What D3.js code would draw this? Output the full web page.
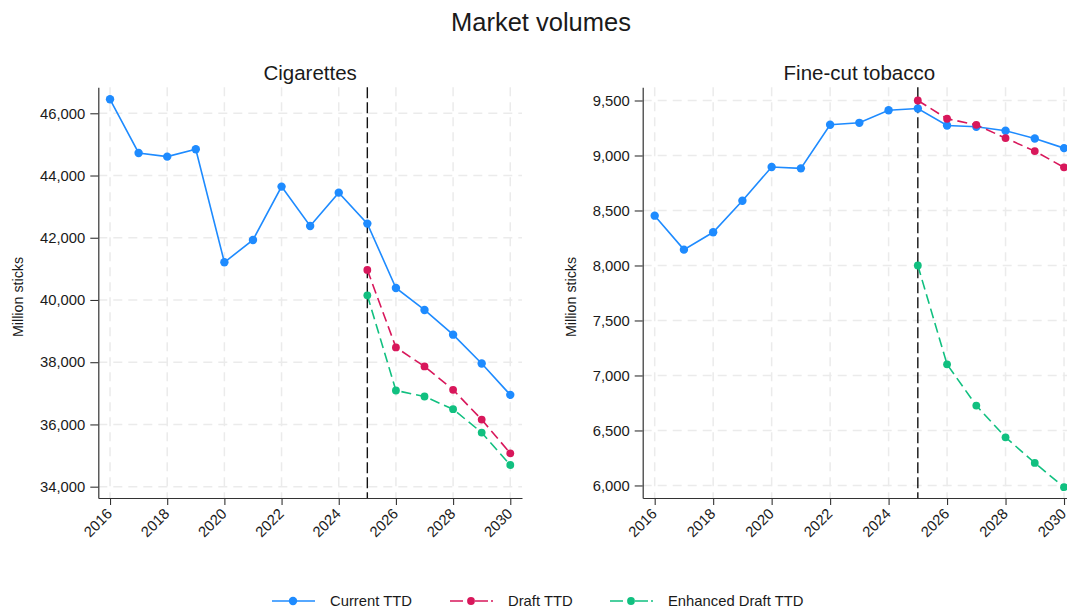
<!DOCTYPE html>
<html>
<head>
<meta charset="utf-8">
<script src="https://cdn.jsdelivr.net/npm/d3@7"></script>
<style>
  body { margin: 0; background: #fff; }
  text { font-family: "Liberation Sans", Arial, sans-serif; fill: #1a1a1a; }
</style>
</head>
<body>
<svg id="chart" width="1067" height="610"></svg>
<script>
// ---- data -------------------------------------------------------------
const years = [2016, 2017, 2018, 2019, 2020, 2021, 2022, 2023, 2024, 2025, 2026, 2027, 2028, 2029, 2030];
const projYears = [2025, 2026, 2027, 2028, 2029, 2030];
const yearTicks = [2016, 2018, 2020, 2022, 2024, 2026, 2028, 2030];
const policyYear = 2025;

const seriesNames = ["Current TTD", "Draft TTD", "Enhanced Draft TTD"];

// Cigarettes, million sticks
const cigCurrent  = [46450, 44725, 44607, 44843, 41211, 41929, 43643, 42379, 43450, 42454, 40386, 39679, 38885, 37960, 36951];
const cigDraft    = [40965, 38476, 37864, 37112, 36157, 35072];
const cigEnhanced = [40151, 37091, 36898, 36490, 35738, 34697];
const cigTicks    = [34000, 36000, 38000, 40000, 42000, 44000, 46000];

// Fine-cut tobacco, million sticks
const fctCurrent  = [8453, 8144, 8302, 8589, 8895, 8883, 9279, 9297, 9412, 9427, 9273, 9261, 9225, 9155, 9067];
const fctDraft    = [9500, 9334, 9279, 9158, 9040, 8892];
const fctEnhanced = [8000, 7101, 6726, 6438, 6205, 5984];
const fctTicks    = [6000, 6500, 7000, 7500, 8000, 8500, 9000, 9500];

// ---- styles -----------------------------------------------------------
const colors = ["#1E8BFF", "#D8175B", "#11C080"];
const dashes = [null, "10,5", "10,5"];
const radii  = [4.2, 3.9, 3.9];

const svg = d3.select("#chart");
const plotTop = 87.3, plotBottom = 498;

svg.append("text")
  .attr("x", 541).attr("y", 31)
  .attr("text-anchor", "middle")
  .style("font-size", "25.5px")
  .text("Market volumes");

function panel(cfg) {
  const x = d3.scaleLinear().domain([2015.59, 2030.41]).range([cfg.left, cfg.right]);
  const y = d3.scaleLinear().domain(cfg.yDomain).range([plotBottom, plotTop]);
  const g = svg.append("g");

  // grid
  g.append("g").selectAll("line").data(cfg.ticks).join("line")
    .attr("x1", cfg.left).attr("x2", cfg.right)
    .attr("y1", d => y(d)).attr("y2", d => y(d))
    .attr("stroke", "#ebebeb").attr("stroke-width", 1.5).attr("stroke-dasharray", "9,6");
  g.append("g").selectAll("line").data(yearTicks).join("line")
    .attr("x1", d => x(d)).attr("x2", d => x(d))
    .attr("y1", plotTop).attr("y2", plotBottom)
    .attr("stroke", "#ebebeb").attr("stroke-width", 1.5).attr("stroke-dasharray", "9,6");

  // policy start marker
  g.append("line")
    .attr("x1", x(policyYear)).attr("x2", x(policyYear))
    .attr("y1", plotTop).attr("y2", plotBottom)
    .attr("stroke", "#111").attr("stroke-width", 1.4).attr("stroke-dasharray", "11,4");

  // axes
  const yAxis = g.append("g").attr("transform", `translate(${cfg.left},0)`)
    .call(d3.axisLeft(y).tickValues(cfg.ticks).tickFormat(d3.format(",")).tickSize(8).tickPadding(5).tickSizeOuter(0));
  const xAxis = g.append("g").attr("transform", `translate(0,${plotBottom})`)
    .call(d3.axisBottom(x).tickValues(yearTicks).tickFormat(d3.format("d")).tickSize(7).tickSizeOuter(0));
  [yAxis, xAxis].forEach(a => {
    a.select(".domain").attr("stroke", "#333").attr("stroke-width", 1.2);
    a.selectAll(".tick line").attr("stroke", "#333").attr("stroke-width", 1.1);
    a.selectAll(".tick text").style("font-size", "14.8px").attr("fill", "#1a1a1a");
  });
  xAxis.selectAll(".tick text")
    .attr("y", 0).attr("dy", "0.35em")
    .attr("text-anchor", "end")
    .attr("transform", "translate(-1,13) rotate(-45)");

  // titles
  g.append("text")
    .attr("x", (cfg.left + cfg.right) / 2).attr("y", 80)
    .attr("text-anchor", "middle")
    .style("font-size", "20.5px")
    .text(cfg.title);
  g.append("text")
    .attr("transform", `translate(${cfg.yTitleX},297) rotate(-90)`)
    .attr("text-anchor", "middle")
    .attr("dy", "0.35em")
    .style("font-size", "14.3px")
    .text("Million sticks");

  // series
  const series = [
    { xs: years, vs: cfg.current },
    { xs: projYears, vs: cfg.draft },
    { xs: projYears, vs: cfg.enhanced }
  ];
  const line = d3.line().x(d => x(d[0])).y(d => y(d[1]));
  series.forEach((s, i) => {
    const pts = s.xs.map((yr, k) => [yr, s.vs[k]]);
    g.append("path").datum(pts)
      .attr("d", line)
      .attr("fill", "none")
      .attr("stroke", colors[i])
      .attr("stroke-width", 1.6)
      .attr("stroke-dasharray", dashes[i]);
    g.append("g").selectAll("circle").data(pts).join("circle")
      .attr("cx", d => x(d[0])).attr("cy", d => y(d[1]))
      .attr("r", radii[i]).attr("fill", colors[i]);
  });
}

panel({
  title: "Cigarettes", left: 98.3, right: 522, yTitleX: 18,
  yDomain: [33636, 46835], ticks: cigTicks,
  current: cigCurrent, draft: cigDraft, enhanced: cigEnhanced
});
panel({
  title: "Fine-cut tobacco", left: 642.7, right: 1076, yTitleX: 571,
  yDomain: [5886, 9620], ticks: fctTicks,
  current: fctCurrent, draft: fctDraft, enhanced: fctEnhanced
});

// ---- legend -----------------------------------------------------------
const legendX = [272, 450, 610];
const legendY = 601;
const leg = svg.append("g");
seriesNames.forEach((name, i) => {
  const gx = legendX[i];
  leg.append("line")
    .attr("x1", gx).attr("x2", gx + 43)
    .attr("y1", legendY).attr("y2", legendY)
    .attr("stroke", colors[i]).attr("stroke-width", 1.6)
    .attr("stroke-dasharray", i === 0 ? null : "13,12,13,3");
  leg.append("circle")
    .attr("cx", gx + 21).attr("cy", legendY)
    .attr("r", radii[i]).attr("fill", colors[i]);
  leg.append("text")
    .attr("x", gx + 58).attr("y", legendY)
    .attr("dy", "0.35em")
    .style("font-size", "14.8px")
    .text(name);
});
</script>
</body>
</html>
